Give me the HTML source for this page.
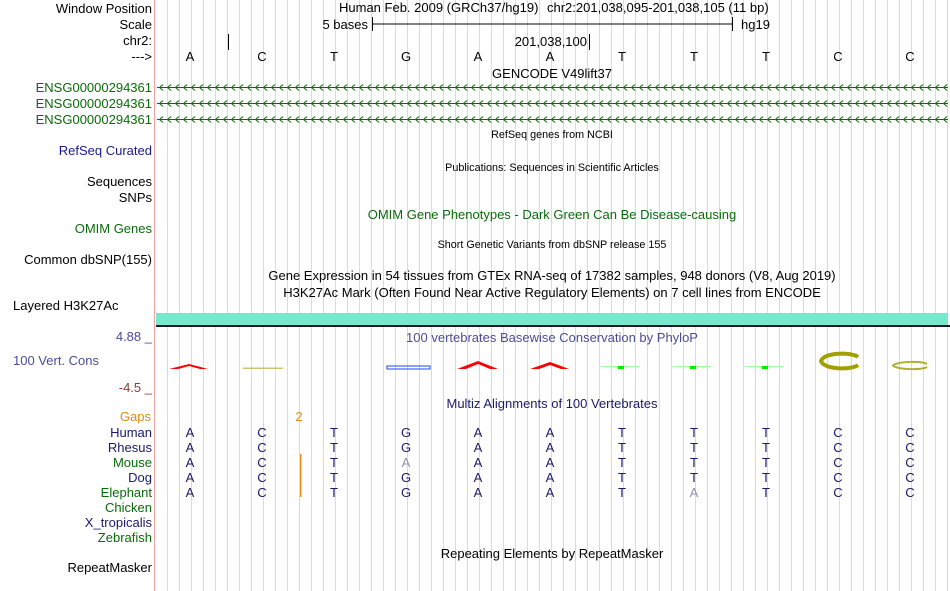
<!DOCTYPE html>
<html><head><meta charset="utf-8"><style>
html,body{margin:0;padding:0;background:#fff;}
svg{display:block;font-family:"Liberation Sans",sans-serif;}
</style></head><body>
<svg width="950" height="591" viewBox="0 0 950 591" xmlns="http://www.w3.org/2000/svg">
<defs>
<pattern id="grid" x="167" y="0" width="12" height="591" patternUnits="userSpaceOnUse">
<rect x="0" y="0" width="1" height="591" fill="#d8d8f4"/>
</pattern>
<pattern id="chev" x="158" y="81" width="8" height="16" patternUnits="userSpaceOnUse">
<path d="M5,3.5 L1.5,6.5 L5,9.5" fill="none" stroke="#0a6b0a" stroke-width="1"/>
</pattern>
</defs>
<rect x="156" y="0" width="794" height="591" fill="url(#grid)"/>
<rect x="154" y="0" width="1" height="591" fill="#f4a0a0"/>

<g font-size="13" text-anchor="end" fill="#000">
<text x="152" y="13">Window Position</text>
<text x="152" y="29">Scale</text>
<text x="152" y="45">chr2:</text>
<text x="152" y="61">---&gt;</text>
<g fill="#0a6b0a"><text x="152" y="92">ENSG00000294361</text><text x="152" y="108">ENSG00000294361</text><text x="152" y="124">ENSG00000294361</text></g>
<text x="152" y="155" fill="#1a1a8c">RefSeq Curated</text>
<text x="152" y="186">Sequences</text>
<text x="152" y="202">SNPs</text>
<text x="152" y="233" fill="#0a6b0a">OMIM Genes</text>
<text x="152" y="264">Common dbSNP(155)</text>
<text x="13" y="310" text-anchor="start">Layered H3K27Ac</text>
<text x="152" y="341" fill="#4c4c96">4.88 _</text>
<text x="13" y="365" text-anchor="start" fill="#4c4c96">100 Vert. Cons</text>
<text x="152" y="392" fill="#8b3a3a">-4.5 _</text>
<text x="151" y="421" fill="#e08a1a">Gaps</text>
<g fill="#1a1a6c"><text x="152" y="437">Human</text><text x="152" y="452">Rhesus</text><text x="152" y="482">Dog</text><text x="152" y="527">X_tropicalis</text></g>
<g fill="#0a6b0a"><text x="152" y="467">Mouse</text><text x="152" y="497">Elephant</text><text x="152" y="512">Chicken</text><text x="152" y="542">Zebrafish</text></g>
<text x="152" y="572">RepeatMasker</text>
</g>

<g font-size="13" fill="#000">
<text x="339" y="12">Human Feb. 2009 (GRCh37/hg19)</text>
<text x="547" y="12">chr2:201,038,095-201,038,105 (11 bp)</text>
<text x="368" y="29" text-anchor="end">5 bases</text>
<text x="741" y="29">hg19</text>
<text x="587" y="46" text-anchor="end">201,038,100</text>
<text x="552" y="78" text-anchor="middle">GENCODE V49lift37</text>
<text x="552" y="280" text-anchor="middle">Gene Expression in 54 tissues from GTEx RNA-seq of 17382 samples, 948 donors (V8, Aug 2019)</text>
<text x="552" y="297" text-anchor="middle">H3K27Ac Mark (Often Found Near Active Regulatory Elements) on 7 cell lines from ENCODE</text>
<text x="552" y="558" text-anchor="middle">Repeating Elements by RepeatMasker</text>
<text x="552" y="219" text-anchor="middle" fill="#0a6b0a">OMIM Gene Phenotypes - Dark Green Can Be Disease-causing</text>
<text x="552" y="342" text-anchor="middle" fill="#4c4c96">100 vertebrates Basewise Conservation by PhyloP</text>
<text x="552" y="408" text-anchor="middle" fill="#1a1a6c">Multiz Alignments of 100 Vertebrates</text>
</g>
<g font-size="10.8" fill="#000" text-anchor="middle">
<text x="552" y="138">RefSeq genes from NCBI</text>
<text x="552" y="171">Publications: Sequences in Scientific Articles</text>
<text x="552" y="248">Short Genetic Variants from dbSNP release 155</text>
</g>

<path d="M372,24H732M372.5,17V31M732.5,17V31M228.5,34V50M589.5,34V50" stroke="#000" stroke-width="1"/>

<g font-size="13" fill="#000" text-anchor="middle">
<text x="190" y="61">A</text><text x="262" y="61">C</text><text x="334" y="61">T</text><text x="406" y="61">G</text><text x="478" y="61">A</text><text x="550" y="61">A</text><text x="622" y="61">T</text><text x="694" y="61">T</text><text x="766" y="61">T</text><text x="838" y="61">C</text><text x="910" y="61">C</text>
</g>

<g>
<rect x="157" y="81" width="791" height="48" fill="url(#chev)"/>
<path d="M157,87.5H948M157,103.5H948M157,119.5H948" stroke="#0a6b0a" stroke-width="1"/>
</g>

<rect x="156" y="313" width="792" height="13" fill="#76e8cc"/>
<rect x="156" y="325" width="794" height="2" fill="#1a1a2a"/>

<g>
<path d="M169,369 L189,364 L208,369 L200,369 L189,366 L178,369Z" fill="#f00"/>
<rect x="243" y="367.5" width="40" height="1.5" fill="#c8c870"/>
<rect x="387" y="366" width="43" height="3" fill="none" stroke="#2040ff" stroke-width="1"/>
<path d="M457,369 L478,361 L498,369 L490,369 L478,364 L466,369Z" fill="#f00"/>
<path d="M530,369 L550,362 L569,369 L561,369 L550,365 L539,369Z" fill="#f00"/>
<g fill="#a0ffa0"><rect x="601" y="366" width="38" height="1"/><rect x="673" y="366" width="38" height="1"/><rect x="745" y="366" width="38" height="1"/></g>
<g fill="#00ee00"><rect x="618" y="366" width="6" height="3"/><rect x="690" y="366" width="6" height="3"/><rect x="762" y="366" width="6" height="3"/></g>
<path d="M858,357 C852,352 824,352 821,361 C824,370 852,370 858,365" fill="none" stroke="#a0a000" stroke-width="4"/>
<path d="M927,364 C922,361 898,361 893,365.5 C898,370 922,370 927,367" fill="none" stroke="#b0b030" stroke-width="2"/>
</g>

<text x="299" y="421" font-size="13" fill="#e08a1a" text-anchor="middle">2</text>
<rect x="300" y="454" width="1.5" height="43" fill="#f09010"/>

<g font-size="13" fill="#1a1a6c" text-anchor="middle">
<g><text x="190" y="437">A</text><text x="262" y="437">C</text><text x="334" y="437">T</text><text x="406" y="437">G</text><text x="478" y="437">A</text><text x="550" y="437">A</text><text x="622" y="437">T</text><text x="694" y="437">T</text><text x="766" y="437">T</text><text x="838" y="437">C</text><text x="910" y="437">C</text></g>
<g><text x="190" y="452">A</text><text x="262" y="452">C</text><text x="334" y="452">T</text><text x="406" y="452">G</text><text x="478" y="452">A</text><text x="550" y="452">A</text><text x="622" y="452">T</text><text x="694" y="452">T</text><text x="766" y="452">T</text><text x="838" y="452">C</text><text x="910" y="452">C</text></g>
<g><text x="190" y="467">A</text><text x="262" y="467">C</text><text x="334" y="467">T</text><text x="406" y="467" fill="#9090b8">A</text><text x="478" y="467">A</text><text x="550" y="467">A</text><text x="622" y="467">T</text><text x="694" y="467">T</text><text x="766" y="467">T</text><text x="838" y="467">C</text><text x="910" y="467">C</text></g>
<g><text x="190" y="482">A</text><text x="262" y="482">C</text><text x="334" y="482">T</text><text x="406" y="482">G</text><text x="478" y="482">A</text><text x="550" y="482">A</text><text x="622" y="482">T</text><text x="694" y="482">T</text><text x="766" y="482">T</text><text x="838" y="482">C</text><text x="910" y="482">C</text></g>
<g><text x="190" y="497">A</text><text x="262" y="497">C</text><text x="334" y="497">T</text><text x="406" y="497">G</text><text x="478" y="497">A</text><text x="550" y="497">A</text><text x="622" y="497">T</text><text x="694" y="497" fill="#9090b8">A</text><text x="766" y="497">T</text><text x="838" y="497">C</text><text x="910" y="497">C</text></g>
</g>
</svg>
</body></html>
